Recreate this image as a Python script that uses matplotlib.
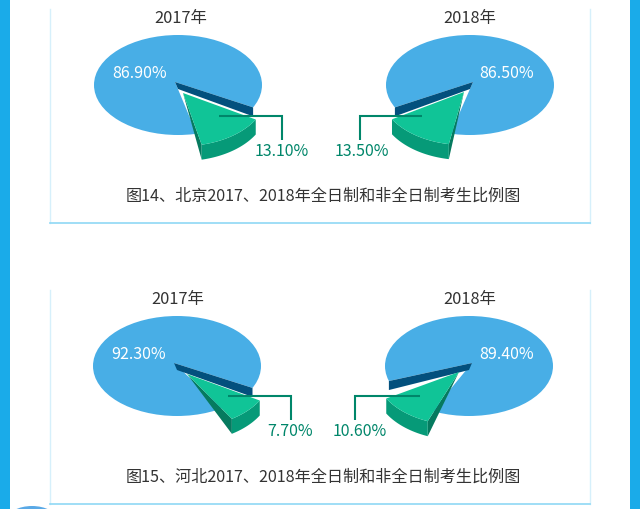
import matplotlib
matplotlib.use("Agg")
import matplotlib.pyplot as plt
import numpy as np
from matplotlib.patches import Ellipse, Polygon, Rectangle

plt.rcParams['font.family'] = ['Noto Sans CJK SC', 'DejaVu Sans']

years = ["2017年", "2018年", "2017年", "2018年"]
full_time = [86.90, 86.50, 92.30, 89.40]
part_time = [13.10, 13.50, 7.70, 10.60]
captions = ["图14、北京2017、2018年全日制和非全日制考生比例图",
            "图15、河北2017、2018年全日制和非全日制考生比例图"]

BLUE = "#48aee6"
NAVY = "#03507d"
GREEN = "#10c497"
GREEN_WALL = "#069a78"
GREEN_SIDE = "#067a5f"
LINE = "#00866a"
TEXT = "#333333"

# layout of each pie, in pixels of the 640x510 picture
centers = [(178, 86), (470, 86), (177, 367), (469, 367)]
sides = [1, -1, 1, -1]
navy_start = [26.6, 26.6, 26, 17.5]
green_start = [30, 31, 30, 30]
hole_trim = [0, 3, 0, 4]
explode = [(5, 8), (-6, 7), (10, 8), (-10, 6)]
title_pos = [(181, 19), (470, 19), (178, 300), (470, 300)]
inner_pos = [(140, 74), (507, 74), (139, 355), (507, 355)]
leaders = [[(219, 117), (282, 117), (282, 141)],
           [(422, 117), (360, 117), (360, 141)],
           [(228, 397), (291, 397), (291, 421)],
           [(420, 397), (355, 397), (355, 421)]]
outer_pos = [(282, 152), (362, 152), (290, 432), (360, 432)]
panels = [(10, 223.5), (291, 504.5)]
caption_y = [196, 477]
RX, RY, DEPTH = 84, 50, 15
SLICE_RY = 53


def rim(cx, cy, side, deg, ry=RY, scale=1.0):
    t = np.radians(deg)
    return np.column_stack([cx + side * RX * scale * np.cos(t), cy + ry * scale * np.sin(t)])


def draw_pie(ax, i):
    cx, cy = centers[i]
    side = sides[i]
    span = part_time[i] * 3.6
    ax.add_patch(Ellipse((cx, cy), 2 * RX, 2 * RY, color=BLUE, lw=0))

    # the cut in the blue disc, white behind the slice
    apex = np.array([cx - 3 * side, cy - 3])
    end = green_start[i] + span
    hole = rim(cx, cy, side, np.linspace(navy_start[i], end - hole_trim[i], 30), scale=1.02)
    ax.add_patch(Polygon(np.vstack([apex, hole]), color="white", lw=0))

    # navy wall along the first cut edge
    p = rim(cx, cy, side, np.array([navy_start[i]]))[0]
    ax.add_patch(Polygon([apex, p, p + (0, 9), apex + (3 * side, 7)], color=NAVY, lw=0))

    # the pulled out slice
    dx, dy = explode[i]
    gx, gy = cx + dx, cy + dy
    arc = rim(gx, gy, side, np.linspace(green_start[i], end, 40), ry=SLICE_RY)
    ax.add_patch(Polygon([(gx, gy), arc[-1], arc[-1] + (0, DEPTH)], color=GREEN_SIDE, lw=0))
    wall = np.vstack([arc, (arc + (0, DEPTH))[::-1]])
    ax.add_patch(Polygon(wall, color=GREEN_WALL, lw=0))
    ax.add_patch(Polygon(np.vstack([(gx, gy), arc]), color=GREEN, lw=0))

    xs, ys = zip(*leaders[i])
    ax.plot(xs, ys, color=LINE, lw=1.5, solid_joinstyle="miter", solid_capstyle="butt")

    ax.text(*title_pos[i], years[i], fontsize=11.8, color=TEXT, ha="center", va="center")
    ax.text(*inner_pos[i], f"{full_time[i]:.2f}%", fontsize=11.5, color="white", ha="center", va="center")
    ax.text(*outer_pos[i], f"{part_time[i]:.2f}%", fontsize=11.5, color=LINE, ha="center", va="center")


fig = plt.figure(figsize=(6.4, 5.1), dpi=100)
ax = fig.add_axes([0, 0, 1, 1])
ax.set_xlim(0, 640)
ax.set_ylim(510, 0)
ax.axis("off")

ax.add_patch(Rectangle((0, 0), 10, 510, color="#1aabe9", lw=0))
ax.add_patch(Rectangle((630, 0), 10, 510, color="#1aabe9", lw=0))

for (top, bottom), text, y in zip(panels, captions, caption_y):
    ax.plot([50, 50], [top, bottom], color="#d6f0fb", lw=1)
    ax.plot([590, 590], [top, bottom], color="#d6f0fb", lw=1)
    ax.plot([50, 590], [bottom, bottom], color="#8fd8f5", lw=1.2)
    ax.text(323.5, y, text, fontsize=11.6, color=TEXT, ha="center", va="center")

ax.add_patch(Ellipse((32, 521), 50, 28, color="#5aa9e6", lw=0))

for i in range(4):
    draw_pie(ax, i)

fig.savefig("out.png", dpi=100)
